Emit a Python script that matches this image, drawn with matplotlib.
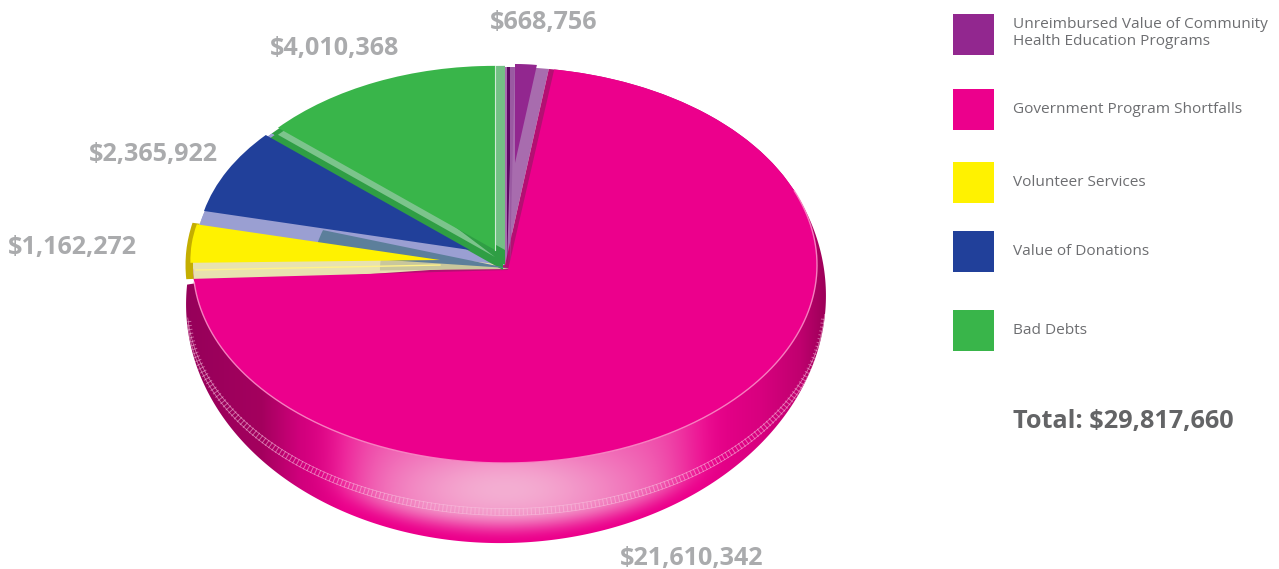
import numpy as np
import matplotlib
matplotlib.use('Agg')
import matplotlib.pyplot as plt
from matplotlib.patches import Wedge, Polygon, Rectangle
from matplotlib.colors import to_rgb

plt.rcParams['font.family'] = ['Open Sans', 'DejaVu Sans']

categories = ['Unreimbursed Value of Community\nHealth Education Programs',
              'Government Program Shortfalls',
              'Volunteer Services',
              'Value of Donations',
              'Bad Debts']
values = [668756, 21610342, 1162272, 2365922, 4010368]
colors = ['#92278f', '#ec008c', '#fff200', '#21409a', '#39b54a']
total_label = 'Total: $29,817,660'

# layout, in pixels of the 1279x569 picture
W, H = 1279, 569
CX, CY, RX, RY = 505, 265, 312, 198
label_xy = [(490, 22), (620, 558), (8, 247), (89, 154), (270, 48)]
legend_y = [14, 89, 162, 231, 310]
legend_text_y = [33, 109, 182, 251, 330]

# clockwise from 12 o'clock, like the pie itself
fracs = np.array(values) / sum(values)
ends = 90 - 360 * np.cumsum(fracs)
starts = np.r_[90, ends[:-1]]


def to_data(x, y):
    return (np.asarray(x) - CX) / RX, (CY - np.asarray(y)) / RY


def sector(ax, i, dx, dy, r, color, a1=0, a2=0, **kw):
    # dx, dy are pixels, a1 widens the slice on its clockwise side, a2 on the other
    w = Wedge((dx / RX, -dy / RY), r, ends[i] - a1, starts[i] + a2,
              fc=color, ec='none', **kw)
    ax.add_patch(w)
    return w


def ring(cx, cy, rx, ry, a1, a2, n=400, rot=0):
    t = np.radians(np.linspace(a1, a2, n))
    u, v = rx * np.cos(t), ry * np.sin(t)
    c, s = np.cos(np.radians(rot)), np.sin(np.radians(rot))
    return to_data(cx + u * c - v * s, cy - u * s - v * c)


def ramp(x, stops):
    xs = [s[0] for s in stops]
    rgb = np.array([to_rgb(s[1]) for s in stops])
    return np.stack([np.interp(x, xs, rgb[:, k]) for k in range(3)], axis=-1)


fig = plt.figure(figsize=(W / 100, H / 100), dpi=100)
ax = fig.add_axes([0, 0, 1, 1])

# side wall of the pie: horizontal shading plus the glossy patch at the front
xx, yy = np.meshgrid(np.arange(W) + 0.5, np.arange(H) + 0.5)
shade = ramp(xx, [(186, '#96005a'), (262, '#a4005e'), (300, '#d0007c'),
                  (345, '#ec008c'), (700, '#ec008c'), (760, '#d8007f'),
                  (800, '#c0006f'), (826, '#9c0058')])
top_edge = CY + RY * np.sqrt(np.clip(1 - ((xx - CX) / RX) ** 2, 0, 1))
bot_edge = 300 + 243 * np.sqrt(np.clip(1 - ((xx - 503) / 320) ** 2, 0, 1))
v = (yy - top_edge) / np.maximum(bot_edge - top_edge, 1)
fade = np.clip((1.0 - v) / 0.38, 0, 1)
gloss = np.exp(-((xx - 518) / 176) ** 8) * fade * fade * (3 - 2 * fade)
gloss = gloss * (0.48 + 0.52 * np.exp(-((xx - 505) / 130) ** 2 - ((yy - 490) / 48) ** 2))
shade = shade * (1 - gloss[..., None]) + np.array(to_rgb('#f4aed2')) * gloss[..., None]
bx, by = ring(506, 300, 320, 243, 25, -186, rot=1.8)
x0, y0 = to_data(0, 0)
x1, y1 = to_data(W, H)
wall = ax.imshow(shade, extent=(x0, x1, y1, y0), origin='upper', aspect='auto',
                 interpolation='bilinear', zorder=0)
wall_clip = Polygon(np.c_[bx, by], transform=ax.transData, fc='none', ec='none')
ax.add_patch(wall_clip)
wall.set_clip_path(wall_clip)

# stitched seam around the wall
sx, sy = ring(506, 307, 319, 205, -176, -3, 800)
seam, = ax.plot(sx, sy, color='#f9c4e0', lw=5.0, alpha=0.5, ls=(0, (0.15, 0.43)), zorder=0.5)
seam.set_clip_path(wall_clip)
for d in (-3.4, 3.4):
    sx, sy = ring(506, 307 + d, 319, 205, -176, -3, 800)
    edge, = ax.plot(sx, sy, color='#f9c4e0', lw=0.5, alpha=0.65, zorder=0.5)
    edge.set_clip_path(wall_clip)

# yellow slice has a dark rim on the outside
sector(ax, 2, 0, 0, 1.024, '#c4ae00', a1=-1, a2=3)

# base layer: these colours are only seen as the bevels of each slice
bevel = ['#a86cae', '#b40f72', '#e8e2b0', '#9a9fd2', '#2f9e44']
wedges, _ = ax.pie(values, colors=bevel, startangle=90, counterclock=False)

sector(ax, 2, 0, 0, 1.0, bevel[2], a2=5)
sector(ax, 3, 0, 0, 1.0, bevel[3], a2=3)
sector(ax, 2, 6, 4, 0.42, '#c9c79c')

# purple
sector(ax, 0, 2, 0, 1.0, '#5c0a62', a1=-7.0)
sector(ax, 0, 5, 0, 1.0, '#9a5aa2', a1=-7.2)
sector(ax, 0, 10, -102, 0.5, colors[0])

# green: dark under the left edge, light bevels next to the flat top
sector(ax, 4, -2, 5, 1.0, bevel[4])
sector(ax, 3, 2, 3, 0.62, '#5c7f9b', a1=-23.6, a2=7)
sector(ax, 4, 0, -15, 0.93, '#74c085')
sector(ax, 4, -10, -8, 0.93, '#7cc48c', a1=-40)
sector(ax, 4, -10, -15, 0.93, colors[4])
gx, gy = to_data([495, 495], [66, 250])
ax.plot(gx, gy, color='#cfe9d4', lw=0.8)

# blue
sector(ax, 3, -35, -15, 0.875, colors[3])

# yellow
sector(ax, 2, -65, -5, 0.8, colors[2])
lx, ly = to_data([196, 440], [270, 265])
ax.plot(lx, ly, color='#fff38a', lw=1)

# the big pink slice sits over everything, its tip slightly off the ellipse centre
t = np.radians(np.linspace(starts[1] - 1, ends[1] + 3, 500))
apex = to_data(508, 270)
pts = np.r_[np.c_[np.cos(t), np.sin(t)], [apex]]
ax.add_patch(Polygon(pts, fc=colors[1], ec='none'))

# thin light line along the front rim
t = np.radians(np.linspace(22, -175, 400))
ax.plot(np.cos(t), np.sin(t), color='#f98cc6', lw=1.0, alpha=0.9)

ax.set_xlim(x0, x1)
ax.set_ylim(y1, y0)
ax.set_aspect('auto')
ax.axis('off')

# texts and legend are placed directly in picture pixels
lab = fig.add_axes([0, 0, 1, 1])
lab.set_xlim(0, W)
lab.set_ylim(H, 0)
lab.axis('off')
lab.patch.set_alpha(0)

for val, (x, y) in zip(values, label_xy):
    lab.text(x, y, '${:,}'.format(val), color='#aaabad', fontsize=18.1, fontweight='bold',
             ha='left', va='center')

for name, c, y, ty in zip(categories, colors, legend_y, legend_text_y):
    lab.add_patch(Rectangle((953, y), 41, 41, fc=c, ec='none'))
    lab.text(1013, ty, name, color='#6d6e71', fontsize=11.05, ha='left', va='center',
             linespacing=1.22)

lab.text(1013, 421, total_label, color='#636466', fontsize=18.2, fontweight='bold',
         ha='left', va='center')

fig.savefig('out.png', dpi=100)
